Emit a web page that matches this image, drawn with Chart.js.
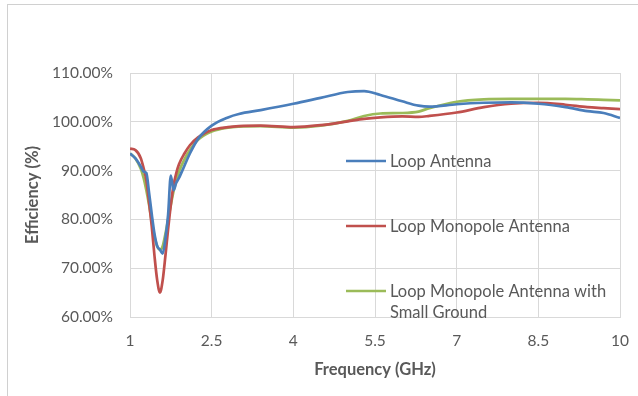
<!DOCTYPE html>
<html>
<head>
<meta charset="utf-8">
<script src="https://cdn.jsdelivr.net/npm/chart.js@4.4.1/dist/chart.umd.min.js"></script>
<style>
  body { margin: 0; background: #fff; }
  #wrap { width: 638px; height: 396px; }
</style>
</head>
<body>
<div id="wrap"><canvas id="c" width="638" height="396"></canvas></div>
<script>
// frequency points (GHz), shared by all three curves
const freq = [1.0, 1.1, 1.2, 1.25, 1.3, 1.35, 1.4, 1.45, 1.5, 1.55, 1.6, 1.65, 1.7, 1.75, 1.8, 1.85, 1.9, 2.0, 2.1, 2.25,
              2.5, 2.8, 3.0, 3.4, 4.0, 4.5, 5.0, 5.3, 5.6, 6.0, 6.3, 6.5, 7.0, 7.5, 8.0, 8.5, 9.0, 9.4, 9.7, 10.0];

const loopAntenna = [93.5, 92.5, 90.8, 89.8, 89.5, 85.5, 81, 77, 74.5, 73.8, 73.0, 76, 81, 89, 86, 87.5, 88.5, 91, 93.5, 96.5,
                     99.2, 100.9, 101.6, 102.4, 103.7, 104.9, 106.1, 106.3, 105.5, 104.2, 103.3, 103.1, 103.6, 103.9, 104.0, 103.7, 103.0, 102.2, 101.8, 100.8];

const loopMonopole = [94.5, 94.2, 92.5, 90.5, 88, 83.5, 78.5, 72.5, 67.5, 65.0, 67.5, 72.5, 78, 83, 87, 89.5, 91.3, 93.5, 95.2, 96.8,
                      98.3, 98.9, 99.1, 99.2, 98.9, 99.3, 100.1, 100.6, 100.9, 101.1, 101.0, 101.2, 101.9, 103.0, 103.7, 103.9, 103.5, 103.0, 102.8, 102.6];

const loopMonopoleSmall = [93.5, 92.5, 90.3, 88.5, 86, 83, 79.5, 76.5, 74.5, 73.8, 74.5, 77, 80, 83, 85.8, 88, 89.8, 92.3, 94.2, 96.3,
                           98.0, 98.8, 99.0, 99.1, 98.8, 99.2, 100.2, 101.2, 101.7, 101.8, 102.1, 102.8, 104.1, 104.6, 104.7, 104.7, 104.7, 104.6, 104.5, 104.4];

const xTicks = [1, 2.5, 4, 5.5, 7, 8.5, 10];
const yTicks = [60, 70, 80, 90, 100, 110];

const seriesNames = ['Loop Antenna', 'Loop Monopole Antenna', ['Loop Monopole Antenna with', 'Small Ground']];
const seriesColors = ['#4a7ebb', '#c0504d', '#9bbb59'];

const txt = '#595959';
const gridCol = '#d9d9d9';

const pts = vals => vals.map((v, i) => ({ x: freq[i], y: v }));

// excel-like frame and white background
const framePlugin = {
  id: 'frame',
  beforeDraw(chart) {
    const ctx = chart.ctx;
    ctx.save();
    ctx.fillStyle = '#fff';
    ctx.fillRect(0, 0, chart.width, chart.height);
    ctx.strokeStyle = '#d0d0d0';
    ctx.lineWidth = 1;
    ctx.strokeRect(7.5, 4.5, 800, 600);
    ctx.restore();
  }
};

// legend sits inside the plot area, like the excel original
const legendPlugin = {
  id: 'insideLegend',
  afterDraw(chart) {
    const ctx = chart.ctx;
    const rows = [161, 226, 291];
    ctx.save();
    ctx.font = '16.5px Lato';
    ctx.textBaseline = 'middle';
    ctx.fillStyle = txt;
    seriesNames.forEach((name, i) => {
      const y = rows[i];
      ctx.strokeStyle = seriesColors[i];
      ctx.lineWidth = 2.5;
      ctx.beginPath();
      ctx.moveTo(346, y);
      ctx.lineTo(386, y);
      ctx.stroke();
      const lines = Array.isArray(name) ? name : [name];
      lines.forEach((l, j) => ctx.fillText(l, 390, y + 1 + j * 21));
    });
    ctx.restore();
  }
};

new Chart(document.getElementById('c'), {
  type: 'line',
  data: {
    datasets: [
      { label: 'Loop Antenna', data: pts(loopAntenna), borderColor: seriesColors[0] },
      { label: 'Loop Monopole Antenna', data: pts(loopMonopole), borderColor: seriesColors[1] },
      { label: 'Loop Monopole Antenna with Small Ground', data: pts(loopMonopoleSmall), borderColor: seriesColors[2] }
    ]
  },
  options: {
    responsive: false,
    animation: false,
    layout: { padding: { top: 73, right: 18, left: 0, bottom: 0 } },
    elements: {
      point: { radius: 0 },
      line: { borderWidth: 2.7, cubicInterpolationMode: 'monotone', fill: false }
    },
    plugins: { legend: { display: false }, tooltip: { enabled: false } },
    scales: {
      x: {
        type: 'linear',
        min: 1,
        max: 10,
        afterBuildTicks: s => { s.ticks = xTicks.map(v => ({ value: v })); },
        afterFit: s => { s.height = 79; s.paddingLeft = 0; s.paddingRight = 0; },
        grid: { color: gridCol, drawTicks: false },
        border: { color: gridCol },
        ticks: { color: txt, font: { family: 'Lato', size: 15.5 }, padding: 15, maxRotation: 0 },
        title: { display: true, text: 'Frequency (GHz)', color: txt, font: { family: 'Lato', size: 16.5, weight: 'bold' }, padding: { bottom: 16, top: 0 } }
      },
      y: {
        min: 60,
        max: 110,
        afterBuildTicks: s => { s.ticks = yTicks.map(v => ({ value: v })); },
        afterFit: s => { s.width = 130; },
        grid: { color: gridCol, drawTicks: false },
        border: { color: gridCol },
        ticks: { color: txt, font: { family: 'Lato', size: 15.5 }, padding: 17, callback: v => v.toFixed(2) + '%' },
        title: { display: true, text: 'Efficiency (%)', color: txt, font: { family: 'Lato', size: 16.5, weight: 'bold' }, padding: { top: 23, bottom: 0 } }
      }
    }
  },
  plugins: [framePlugin, legendPlugin]
});
</script>
</body>
</html>
